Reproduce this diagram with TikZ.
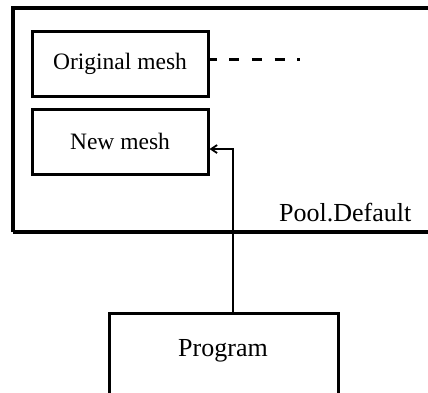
\documentclass[tikz,border=0pt]{standalone}
\usepackage{fontspec}
\setmainfont{Liberation Serif}
\usetikzlibrary{arrows.meta}
\begin{document}
\begin{tikzpicture}[x=1pt,y=-1pt,
  meshbox/.style={draw,line width=3pt,minimum width=176pt,minimum height=65pt,inner sep=0pt,font=\fontsize{23.5}{28}\selectfont},
  bigtxt/.style={font=\fontsize{26}{30}\selectfont,inner sep=0pt}]
\useasboundingbox (0,0) rectangle (428,392);
\clip (0,0) rectangle (428,392);
\draw[line width=3.2pt] (13,232) -- (13,8) -- (440,8);
\draw[line width=3.2pt] (13,232) -- (440,232);
\node[meshbox] (orig) at (120,63.5) {Original mesh};
\node[meshbox] (new) at (120,141.5) {New mesh};
\node[bigtxt,anchor=base west] (pool) at (279,221) {Pool.Default};
\node[draw,line width=3.2pt,minimum width=229pt,minimum height=100pt,inner sep=0pt,anchor=north west] (prog) at (108,312) {};
\node[bigtxt,anchor=base] (progt) at (223,356) {Program};
\coordinate (dashend) at (300,59);
\draw[line width=3pt,dash pattern=on 10pt off 12.7pt,dash phase=3pt] (orig.east |- dashend) -- (dashend);
\draw[line width=2.4pt,-{Straight Barb[length=6pt,width=8pt,line width=1.8pt]}] (233,312) -- (233,149) -- (new.east |- 0,149);
\end{tikzpicture}
\end{document}
